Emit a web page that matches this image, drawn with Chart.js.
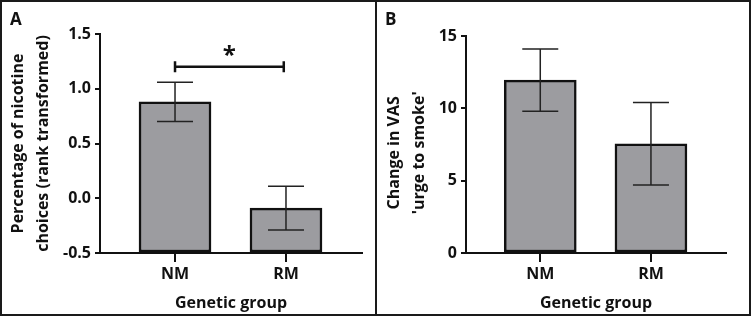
<!DOCTYPE html>
<html>
<head>
<meta charset="utf-8">
<script src="https://cdn.jsdelivr.net/npm/chart.js@4"></script>
<style>
  body { margin: 0; background: #fff; }
  #wrap { position: relative; width: 752px; height: 319px; background: #fff; }
  canvas { position: absolute; top: 0; }
  #frame { position: absolute; left: 0; top: 0; width: 751px; height: 316px; box-sizing: border-box; border: 2px solid #1a1a1a; }
  #divider { position: absolute; left: 375px; top: 0; width: 2px; height: 316px; background: #1a1a1a; }
  .letter { position: absolute; top: 7px; font: bold 17px "Open Sans", sans-serif; color: #111; }
</style>
</head>
<body>
<div id="wrap">
  <canvas id="chartA" width="376" height="316" style="left:0"></canvas>
  <canvas id="chartB" width="376" height="316" style="left:376px"></canvas>
  <div id="frame"></div>
  <div id="divider"></div>
  <div class="letter" style="left:10px">A</div>
  <div class="letter" style="left:385px">B</div>
</div>
<script>
const groups = ['NM', 'RM'];

// panel A: percentage of nicotine choices (rank transformed)
const nicotineMeans = [0.88, -0.09];
const nicotineSem = [0.18, 0.20];
const nicotineTicks = [-0.5, 0.0, 0.5, 1.0, 1.5];

// panel B: change in VAS 'urge to smoke'
const urgeMeans = [11.95, 7.55];
const urgeSem = [2.15, 2.85];
const urgeTicks = [0, 5, 10, 15];

// significance bracket between groups (x from, x to, y level)
const sigBracket = [0, 0.98, 1.2];

const FONT = '"Open Sans", sans-serif';
const INK = '#111';

const errorBars = {
  id: 'errorBars',
  afterDatasetsDraw(chart, args, opts) {
    const { ctx, scales: { x, y } } = chart;
    ctx.save();
    ctx.strokeStyle = '#222';
    ctx.lineWidth = 1.5;
    opts.means.forEach((m, i) => {
      const px = x.getPixelForValue(i);
      const top = y.getPixelForValue(m + opts.sem[i]);
      const bot = y.getPixelForValue(m - opts.sem[i]);
      ctx.beginPath();
      ctx.moveTo(px, top); ctx.lineTo(px, bot);
      ctx.moveTo(px - 18, top); ctx.lineTo(px + 18, top);
      ctx.moveTo(px - 18, bot); ctx.lineTo(px + 18, bot);
      ctx.stroke();
    });
    if (opts.bracket) {
      const [a, b, lvl] = opts.bracket;
      const x1 = x.getPixelForValue(a), x2 = x.getPixelForValue(b);
      const py = y.getPixelForValue(lvl);
      ctx.lineWidth = 2.5;
      ctx.strokeStyle = INK;
      ctx.beginPath();
      ctx.moveTo(x1, py); ctx.lineTo(x2, py);
      ctx.moveTo(x1, py - 5.5); ctx.lineTo(x1, py + 5.5);
      ctx.moveTo(x2, py - 5.5); ctx.lineTo(x2, py + 5.5);
      ctx.stroke();
      ctx.fillStyle = INK;
      ctx.font = 'bold 24px ' + FONT;
      ctx.textAlign = 'center';
      ctx.textBaseline = 'middle';
      ctx.fillText('*', (x1 + x2) / 2, py - 11);
    }
    ctx.restore();
  }
};

function makeChart(id, cfg) {
  const ctx = document.getElementById(id).getContext('2d');
  return new Chart(ctx, {
    type: 'bar',
    data: {
      datasets: [{
        data: cfg.means.map((v, i) => ({ x: i, y: v })),
        base: cfg.min,
        backgroundColor: '#9c9ca0',
        borderColor: INK,
        borderWidth: 2.5,
        borderSkipped: false,
        barThickness: 72
      }]
    },
    options: {
      responsive: false,
      devicePixelRatio: 1,
      animation: false,
      layout: { padding: { top: cfg.top, right: cfg.right, bottom: 0, left: 0 } },
      scales: {
        x: {
          type: 'linear',
          offset: false,
          bounds: 'data',
          min: cfg.xmin,
          max: cfg.xmax,
          afterBuildTicks: s => { s.ticks = groups.map((g, i) => ({ value: i })); },
          afterFit: s => { s.height = 316 - cfg.bottom; },
          ticks: {
            callback: v => groups[v],
            color: INK,
            padding: 3,
            font: { family: FONT, size: 16, weight: 'bold' },
            maxRotation: 0
          },
          grid: { drawOnChartArea: false, drawTicks: true, tickLength: 9, color: INK, lineWidth: 2, offset: false },
          border: { display: true, color: INK, width: 2 },
          title: {
            display: true,
            text: 'Genetic group',
            color: INK,
            font: { family: FONT, size: 16, weight: 'bold' },
            padding: { top: 0, bottom: 3 }
          }
        },
        y: {
          min: cfg.min,
          max: cfg.max,
          afterBuildTicks: s => { s.ticks = cfg.ticks.map(v => ({ value: v })); },
          afterFit: s => { s.width = cfg.axisX; },
          ticks: {
            callback: cfg.fmt,
            color: INK,
            padding: 4,
            font: { family: FONT, size: 16, weight: 'bold' }
          },
          grid: { drawOnChartArea: false, drawTicks: true, tickLength: 5, color: INK, lineWidth: 2 },
          border: { display: true, color: INK, width: 2 },
          title: {
            display: true,
            text: cfg.ytitle,
            color: INK,
            font: { family: FONT, size: 16, weight: 'bold', lineHeight: 1.55 },
            padding: { top: 6, bottom: 0 }
          }
        }
      },
      plugins: {
        legend: { display: false },
        tooltip: { enabled: false },
        errorBars: { means: cfg.means, sem: cfg.sem, bracket: cfg.bracket }
      }
    },
    plugins: [errorBars]
  });
}

makeChart('chartA', {
  means: nicotineMeans, sem: nicotineSem, ticks: nicotineTicks,
  min: -0.5, max: 1.5, fmt: v => v.toFixed(1),
  xmin: -0.676, xmax: 1.685,
  top: 34, bottom: 253, right: 14, axisX: 100,
  ytitle: ['Percentage of nicotine', 'choices (rank transformed)'],
  bracket: sigBracket
});

makeChart('chartB', {
  means: urgeMeans, sem: urgeSem, ticks: urgeTicks,
  min: 0, max: 15, fmt: v => String(v),
  xmin: -0.671, xmax: 1.678,
  top: 36, bottom: 253, right: 26, axisX: 90,
  ytitle: ['Change in VAS    ', "'urge to smoke'    "],
  bracket: null
});
</script>
</body>
</html>
